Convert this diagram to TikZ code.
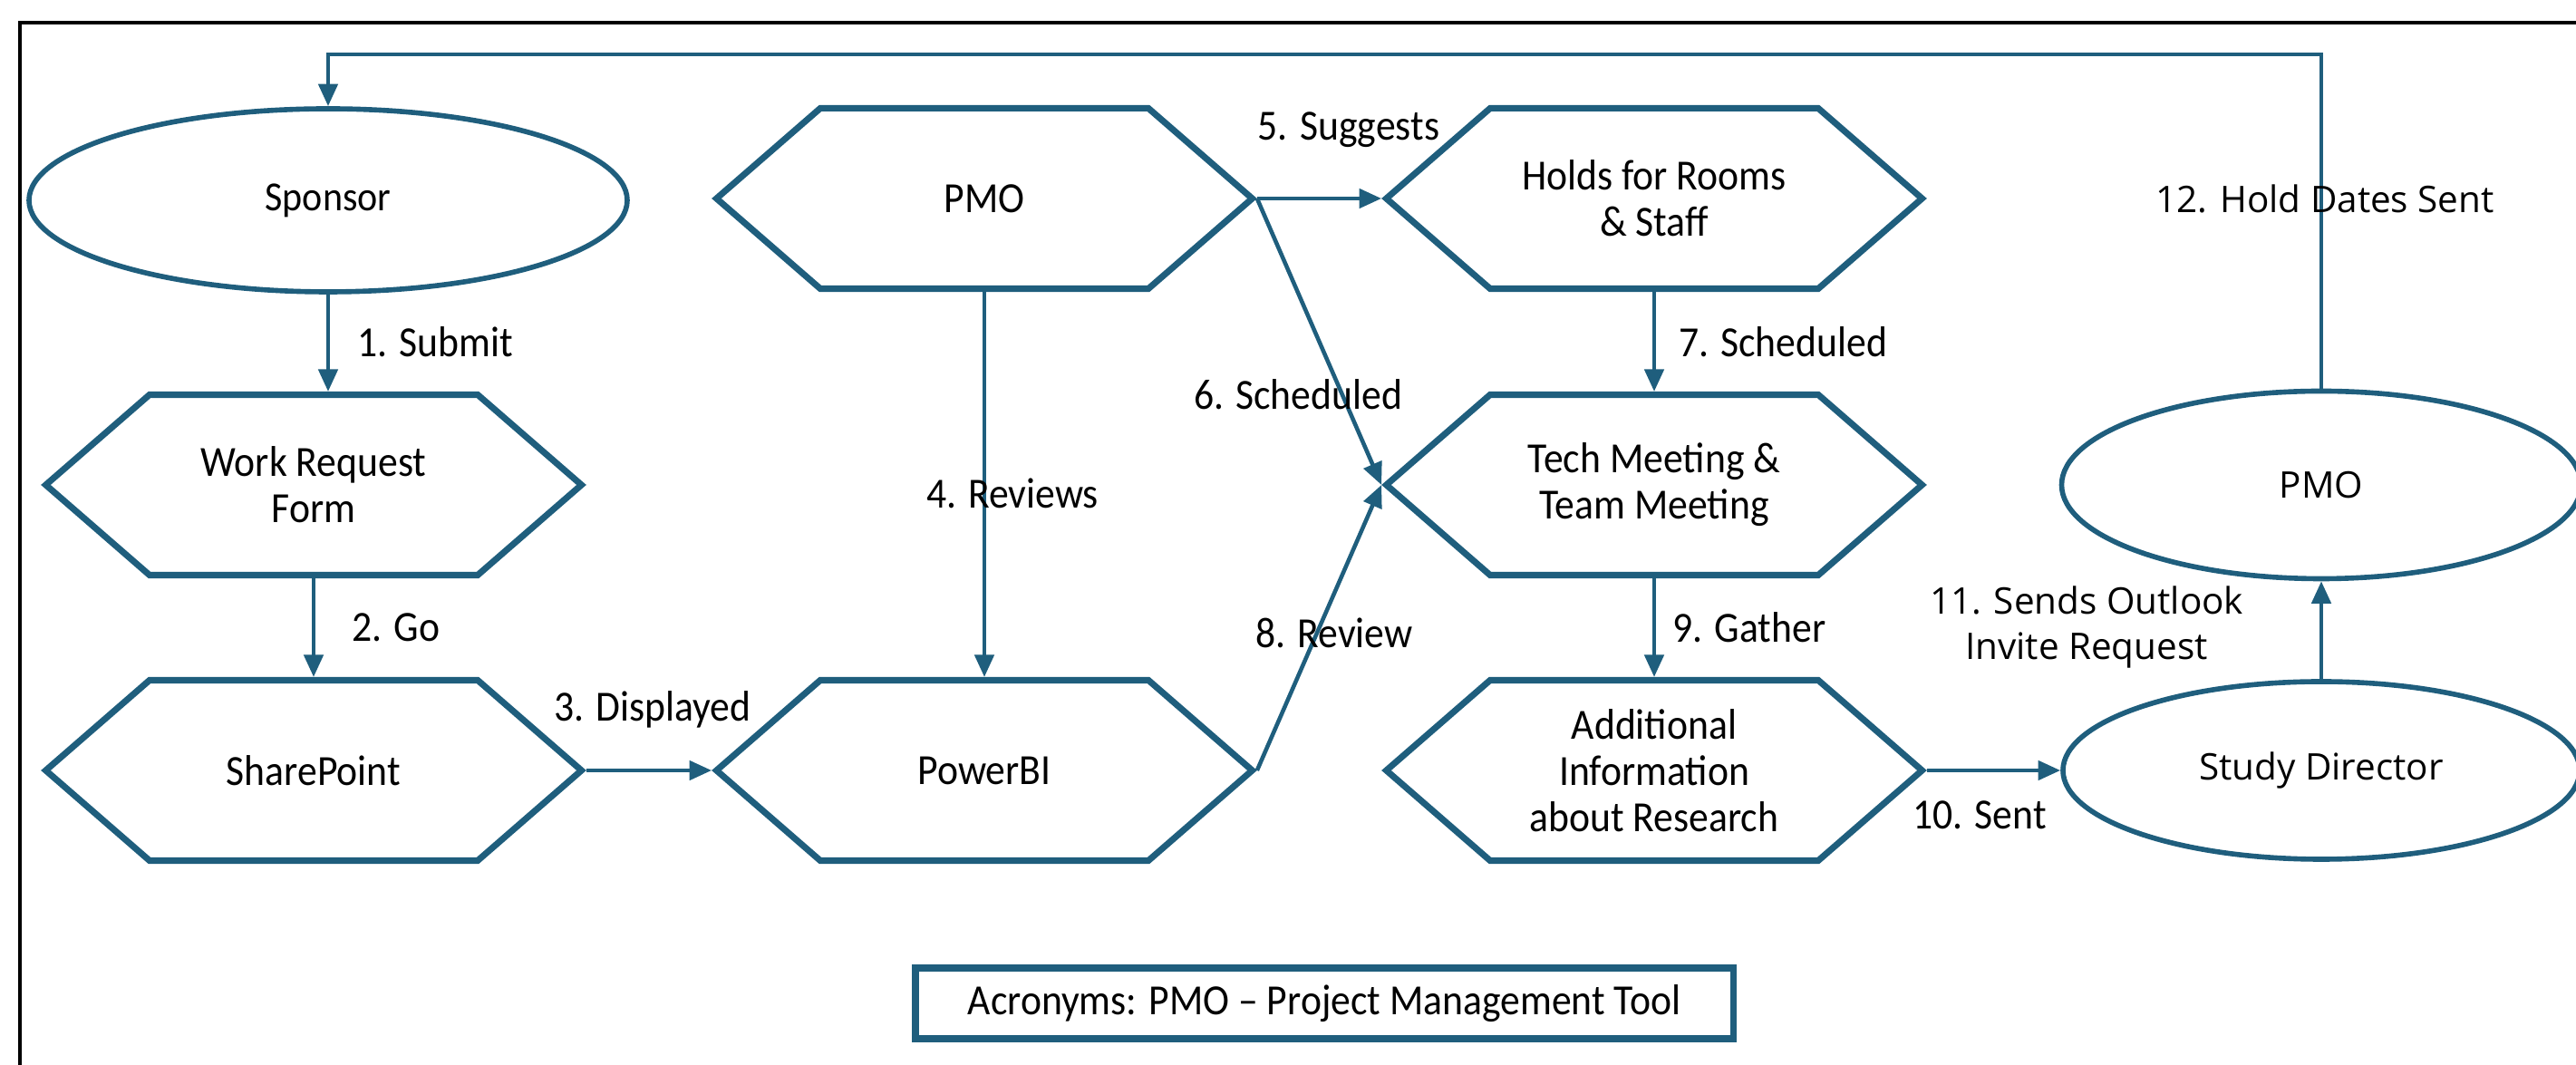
\documentclass[tikz,border=0pt]{standalone}
\usepackage{fontspec}
\setmainfont[FakeStretch=0.92]{Carlito}
\newfontfamily\widefont{Open Sans}
\usetikzlibrary{shapes.geometric,shapes.symbols,arrows.meta,positioning}
\definecolor{flowblue}{RGB}{31,94,125}

\begin{document}
\begin{tikzpicture}[
    hexnode/.style={signal, signal to=east and west, signal pointer angle=82, draw=flowblue, line width=2pt,
        minimum width=5.91cm, minimum height=1.99cm, inner sep=0pt, align=center, font=\fontsize{13.5}{14.5}\selectfont},
    ovalnode/.style={ellipse, draw=flowblue, line width=1.6pt, inner sep=0pt, align=center,
        font=\widefont\fontsize{11.5}{14}\selectfont},
    flowarrow/.style={flowblue, line width=1.3pt, -{Triangle[length=7pt, width=6pt]}},
    steplabel/.style={font=\fontsize{13.5}{16}\selectfont, align=center},
    widelabel/.style={font=\widefont\fontsize{11.5}{14}\selectfont, align=center}
]
\useasboundingbox (0,0) rectangle (28.42,11.75);

% Frame
\draw[black, line width=0.9pt] (0.22,0) -- (0.22,11.5) -- (28.42,11.5);

% Left column
\node[ovalnode, minimum width=6.6cm, minimum height=2.02cm, font=\fontsize{13}{16}\selectfont] (sponsor) at (3.62,9.54) {Sponsor};
\node[hexnode] (wrform) at (3.46,6.40) {Work Request\\Form};
\node[hexnode] (sharepoint) at (3.46,3.25) {SharePoint};

% Middle column
\node[hexnode] (pmo) at (10.86,9.56) {PMO};
\node[hexnode] (powerbi) at (10.86,3.25) {PowerBI};

% Meetings column
\node[hexnode] (holds) at (18.25,9.56) {Holds for Rooms\\\& Staff};
\node[hexnode] (tech) at (18.25,6.40) {Tech Meeting \&\\Team Meeting};
\node[hexnode] (addinfo) at (18.25,3.25) {Additional\\Information\\about Research};

% Right column
\node[ovalnode, minimum width=5.73cm, minimum height=2.07cm] (pmoright) at (25.61,6.40) {PMO};
\node[ovalnode, minimum width=5.7cm, minimum height=1.96cm] (director) at (25.61,3.25) {Study Director};

% Acronyms
\node[draw=flowblue, line width=2pt, minimum width=9.02cm, minimum height=0.78cm, inner sep=0pt,
    font=\fontsize{13.5}{16}\selectfont] (acronyms) at (14.61,0.68) {Acronyms: PMO -- Project Management Tool};

% Connectors
\coordinate (looptop) at (25.61,11.15);
\draw[flowarrow] (pmoright.north) -- (looptop) -| (sponsor.north);
\draw[flowarrow] (sponsor.south) -- (sponsor.south |- wrform.north);
\draw[flowarrow] (wrform.south) -- (sharepoint.north);
\draw[flowarrow] (sharepoint.east) -- (powerbi.west);
\draw[flowarrow] (pmo.south) -- (powerbi.north);
\draw[flowarrow] (pmo.east) -- (holds.west);
\draw[flowarrow] (pmo.east) -- (tech.west);
\draw[flowarrow] (holds.south) -- (tech.north);
\draw[flowarrow] (powerbi.east) -- (tech.west);
\draw[flowarrow] (tech.south) -- (addinfo.north);
\draw[flowarrow] (addinfo.east) -- (director.west);
\draw[flowarrow] (director.north) -- (pmoright.south);

% Step labels
\node[steplabel] (lblsubmit) at (4.80,7.98) {1. Submit};
\node[steplabel] (lblgo) at (4.37,4.83) {2. Go};
\node[steplabel] (lbldisplayed) at (7.20,3.92) {3. Displayed};
\node[steplabel] (lblreviews) at (11.17,6.31) {4. Reviews};
\node[steplabel] (lblsuggests) at (14.88,10.32) {5. Suggests};
\node[steplabel] (lblscheduled) at (14.32,7.40) {6. Scheduled};
\node[steplabel] (lblscheduledb) at (19.67,7.98) {7. Scheduled};
\node[steplabel] (lblreview) at (14.72,4.77) {8. Review};
\node[steplabel] (lblgather) at (19.30,4.83) {9. Gather};
\node[steplabel] (lblsent) at (21.84,2.76) {10. Sent};
\node[widelabel] (lbloutlook) at (23.02,4.83) {11. Sends Outlook\\Invite Request};
\node[widelabel] (lblholddates) at (25.65,9.56) {12. Hold Dates Sent};

\end{tikzpicture}
\end{document}
